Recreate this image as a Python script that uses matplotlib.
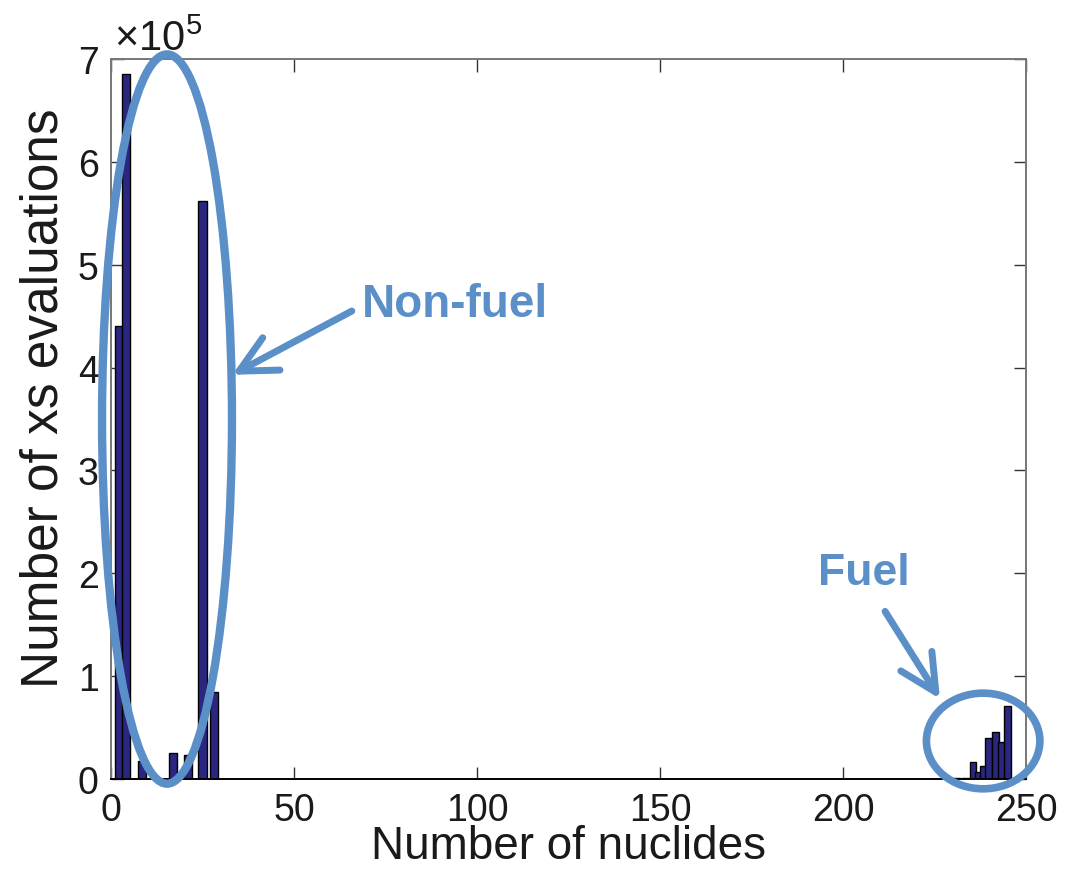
import matplotlib
matplotlib.use("Agg")
import matplotlib.pyplot as plt
from matplotlib.patches import Ellipse
from matplotlib.ticker import FuncFormatter

plt.rcParams["font.family"] = ["Liberation Sans", "DejaVu Sans"]
plt.rcParams["mathtext.fontset"] = "custom"
plt.rcParams["mathtext.rm"] = "Liberation Sans"
plt.rcParams["mathtext.it"] = "Liberation Sans"

# nuclides in the lookup vs. how many xs evaluations hit that count
nonfuel_nuclides = [2.3, 4.1, 8.4, 16.9, 21.1, 25.0, 28.2]
nonfuel_evals = [440000, 685000, 17500, 25000, 23500, 562000, 85000]

fuel_nuclides = [222.0, 225.0, 228.0, 231.0, 233.5,
                 235.5, 237.1, 238.4, 239.7, 241.6, 243.3, 244.9]
fuel_evals = [300, 500, 700, 900, 1200,
              17000, 7000, 13000, 40000, 46000, 36000, 71000]

XTICKS = [0, 50, 100, 150, 200, 250]
YTICKS = [0, 1e5, 2e5, 3e5, 4e5, 5e5, 6e5, 7e5]

BAR_FACE = "#2b2680"
NOTE_BLUE = "#5b8fc8"
TEXT = "#1a1a1a"

fig = plt.figure(figsize=(10.81, 8.70), dpi=100)
ax = fig.add_axes([0.1027, 0.1034, 0.8464, 0.8276])

ax.bar(nonfuel_nuclides, nonfuel_evals, width=2.3, color=BAR_FACE,
       edgecolor="black", linewidth=1.0, zorder=2)
ax.bar(fuel_nuclides, fuel_evals, width=1.8, color=BAR_FACE,
       edgecolor="black", linewidth=1.0, zorder=2)

ax.set_xlim(0, 250)
ax.set_ylim(0, 7e5)
ax.set_xticks(XTICKS)
ax.set_yticks(YTICKS)
ax.yaxis.set_major_formatter(FuncFormatter(lambda v, _: f"{v / 1e5:g}"))
ax.tick_params(direction="in", length=9, width=1.0, labelsize=27,
               labelcolor=TEXT, top=True, right=True, pad=9,
               color="#333333")
for side in ("top", "right", "left"):
    ax.spines[side].set_color("#777777")
    ax.spines[side].set_linewidth(1.4)
ax.spines["bottom"].set_color("black")
ax.spines["bottom"].set_linewidth(1.4)

ax.set_xlabel("Number of nuclides", fontsize=33, color=TEXT)
ax.xaxis.set_label_coords(0.5, -0.063)
ax.set_ylabel("Number of xs evaluations", fontsize=37, color=TEXT)
ax.yaxis.set_label_coords(-0.047, 0.53)
ax.text(0.003, 1.0, r"$\times10^{5}$", transform=ax.transAxes, fontsize=30,
        color=TEXT, ha="left", va="bottom")

# call-outs for the two groups
ax.add_patch(Ellipse((15.3, 3.5e5), 35.5, 7.09e5, fill=False,
                     edgecolor=NOTE_BLUE, linewidth=6, clip_on=False, zorder=4))
ax.add_patch(Ellipse((238.3, 0.37e5), 31.0, 0.93e5, fill=False,
                     edgecolor=NOTE_BLUE, linewidth=5.5, clip_on=False, zorder=4))

arrow = dict(arrowstyle="->,head_length=1.2,head_width=0.6",
             color=NOTE_BLUE, lw=5, shrinkA=0, shrinkB=0, mutation_scale=22)

ax.text(68.6, 4.62e5, "Non-fuel", fontsize=33, fontweight="bold",
        color=NOTE_BLUE, ha="left", va="center", zorder=5)
ax.annotate("", xy=(33.1, 3.93e5), xytext=(65.8, 4.55e5),
            arrowprops=arrow, annotation_clip=False, zorder=5)

ax.text(193.2, 2.01e5, "Fuel", fontsize=32, fontweight="bold",
        color=NOTE_BLUE, ha="left", va="center", zorder=5)
ax.annotate("", xy=(226.5, 0.78e5), xytext=(211.5, 1.63e5),
            arrowprops=arrow, annotation_clip=False, zorder=5)

fig.savefig("out.png", dpi=100)
